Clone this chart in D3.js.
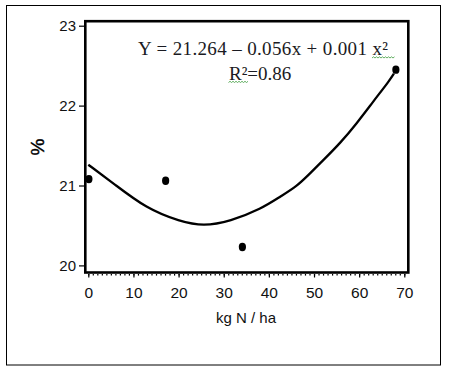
<!DOCTYPE html>
<head>
<meta charset="utf-8">
<style>
body { margin: 0; background: white; }
.tick text { font-family: "Liberation Sans", Arial, sans-serif; fill: #111; }
.eq { font-family: "Liberation Serif", "Times New Roman", serif; font-size: 19px; fill: #1a1a22; }
</style>
</head>
<body>
<svg width="449" height="373"></svg>
<script src="https://d3js.org/d3.v7.min.js"></script>
<script>

// measured points
var nRate = [0, 17, 34, 68];
var pct = [21.08, 21.06, 20.23, 22.45];

// fitted curve
var fitX = [0, 5.5, 12.9, 20.3, 25.5, 31.4, 38.4, 42.5, 46.2, 49.1, 52.1, 55.8, 59.5, 63.1, 66.8, 67.7];
var fitY = [21.26, 21.03, 20.71, 20.55, 20.49, 20.55, 20.71, 20.86, 20.99, 21.15, 21.32, 21.53, 21.78, 22.05, 22.32, 22.40];

var xTicks = [0, 10, 20, 30, 40, 50, 60, 70];
var yTicks = [20, 21, 22, 23];

var svg = d3.select("svg");

// outer frame
svg.append("rect")
  .attr("x", 6.5).attr("y", 5.5)
  .attr("width", 434).attr("height", 359.5)
  .attr("fill", "white").attr("stroke", "#000").attr("stroke-width", 1);

var x = d3.scaleLinear().domain([0, 70]).range([88.3, 404.3]);
var y = d3.scaleLinear().domain([20, 23]).range([265.4, 25.7]);

// plot box
svg.append("rect")
  .attr("x", 85.3).attr("y", 21.2)
  .attr("width", 323).attr("height", 251.3)
  .attr("fill", "none").attr("stroke", "#000").attr("stroke-width", 2.6);

// x axis: minor ticks then major
var xAxisG = svg.append("g").attr("transform", "translate(0,274)");
xAxisG.call(d3.axisBottom(x).tickValues(d3.range(0, 71, 1)).tickSize(1.6).tickFormat(""))
  .call(g => g.select(".domain").remove());
var xMajor = svg.append("g").attr("transform", "translate(0,274)");
xMajor.call(d3.axisBottom(x).tickValues(xTicks).tickSize(3.5).tickPadding(9).tickFormat(d3.format("d")))
  .call(g => g.select(".domain").remove());
xMajor.selectAll(".tick text").attr("font-size", 15.5);
svg.selectAll(".tick line").attr("stroke-width", 1.2);

var yAxisG = svg.append("g").attr("transform", "translate(84,0)");
yAxisG.call(d3.axisLeft(y).tickValues(yTicks).tickSize(5).tickPadding(3).tickFormat(d3.format("d")))
  .call(g => g.select(".domain").remove());
yAxisG.selectAll(".tick text").attr("font-size", 15);
yAxisG.selectAll(".tick line").attr("stroke-width", 1.2);

// curve
var pts = fitX.map((d, i) => [d, fitY[i]]);
svg.append("path")
  .datum(pts)
  .attr("fill", "none")
  .attr("stroke", "#000")
  .attr("stroke-width", 2.3)
  .attr("d", d3.line().x(d => x(d[0])).y(d => y(d[1])).curve(d3.curveBasis));

// data points
svg.selectAll(".dot")
  .data(nRate)
  .enter().append("ellipse")
  .attr("class", "dot")
  .attr("cx", d => x(d) + 0.6)
  .attr("cy", (d, i) => y(pct[i]))
  .attr("rx", 3.6).attr("ry", 4.2)
  .attr("fill", "#000");

// axis titles
svg.append("text")
  .attr("transform", "translate(44,147) rotate(-90)")
  .attr("text-anchor", "middle")
  .attr("font-family", "Liberation Sans, Arial, sans-serif")
  .attr("font-size", 19)
  .attr("stroke", "#000").attr("stroke-width", 0.4)
  .text("%");

svg.append("text")
  .attr("x", 246).attr("y", 323)
  .attr("text-anchor", "middle")
  .attr("font-family", "Liberation Sans, Arial, sans-serif")
  .attr("font-size", 15)
  .attr("fill", "#111")
  .text("kg N / ha");

// regression equation
svg.append("text")
  .attr("class", "eq")
  .attr("x", 138).attr("y", 54.5)
  .attr("textLength", 250)
  .text("Y = 21.264 \u2013 0.056x + 0.001 x\u00b2");
svg.append("text")
  .attr("class", "eq")
  .attr("x", 229).attr("y", 79.5)
  .text("R\u00b2=0.86");

// spell-check squiggles
function squiggle(x0, x1, yy) {
  var p = d3.path();
  p.moveTo(x0, yy);
  var up = true;
  for (var xx = x0 + 1.5; xx <= x1; xx += 1.5) { p.lineTo(xx, up ? yy - 1.2 : yy); up = !up; }
  svg.append("path").attr("d", p.toString()).attr("fill", "none")
    .attr("stroke", "#3a9a3a").attr("stroke-width", 0.8);
}
squiggle(372, 395, 58);
squiggle(228.5, 248, 82.5);

</script>
</body>
